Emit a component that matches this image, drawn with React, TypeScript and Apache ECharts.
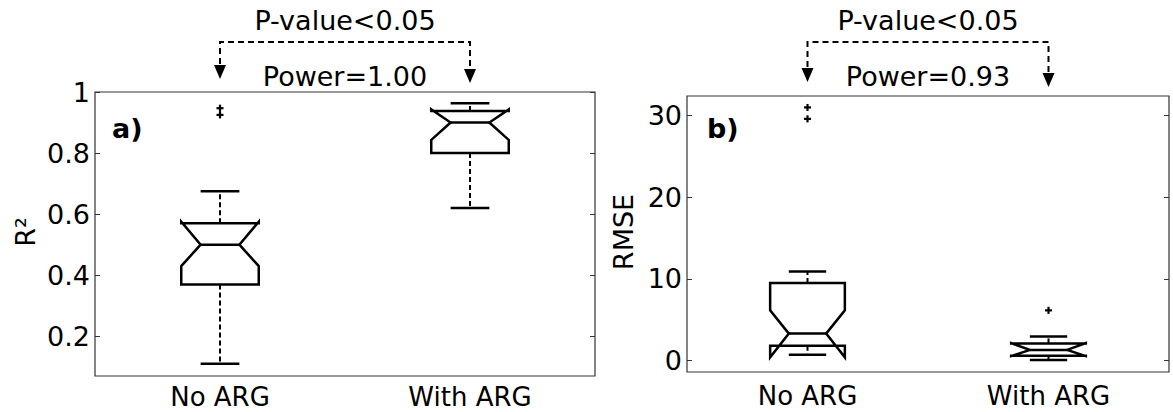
import React, { useEffect, useRef } from 'react';
import * as echarts from 'echarts';

const categories = ['No ARG', 'With ARG'];

// Panel a) R²
const r2LowerWhisker = [0.11, 0.62];
const r2Q1 = [0.37, 0.8];
const r2NotchLow = [0.43, 0.843];
const r2Median = [0.5, 0.9];
const r2NotchHigh = [0.575, 0.943];
const r2Q3 = [0.57, 0.938];
const r2UpperWhisker = [0.675, 0.963];
const r2Outliers = [[0, 0.947], [0, 0.925]];
const r2Ticks = [0.2, 0.4, 0.6, 0.8, 1];

// Panel b) RMSE
const rmseLowerWhisker = [0.7, 0.08];
const rmseQ1 = [1.8, 0.6];
const rmseNotchLow = [0.4, 0.55];
const rmseMedian = [3.3, 1.3];
const rmseNotchHigh = [6.15, 2.15];
const rmseQ3 = [9.5, 2.1];
const rmseUpperWhisker = [10.9, 2.95];
const rmseOutliers = [[0, 31.0], [0, 29.6], [1, 6.15]];
const rmseTicks = [0, 10, 20, 30];

const annotations = [
  { pText: 'P-value<0.05', powerText: 'Power=1.00' },
  { pText: 'P-value<0.05', powerText: 'Power=0.93' },
];

const FONT = 'DejaVu Sans';
const AX = '#333';

function boxRows(lw: number[], q1: number[], nlo: number[], med: number[], nhi: number[], q3: number[], uw: number[]) {
  return categories.map((_, i) => [i, lw[i], q1[i], nlo[i], med[i], nhi[i], q3[i], uw[i]]);
}

function renderBox(params: any, api: any) {
  const idx = api.value(0);
  const y = (v: number) => api.coord([idx, v])[1];
  const cx = api.coord([idx, api.value(4)])[0];
  const bw = api.size([1, 0])[0] * 0.31;
  const L = cx - bw / 2;
  const R = cx + bw / 2;
  const ind = bw / 4;
  const lw = api.value(1), q1 = api.value(2), nlo = api.value(3), med = api.value(4);
  const nhi = api.value(5), q3 = api.value(6), uw = api.value(7);
  const dash = { stroke: '#000', lineWidth: 2, lineDash: [5, 3], fill: 'none' };
  const solid = { stroke: '#000', lineWidth: 2.5, fill: 'none', lineJoin: 'miter' };
  const outline = [
    [L, y(q1)], [L, y(nlo)], [L + ind, y(med)], [L, y(nhi)], [L, y(q3)],
    [R, y(q3)], [R, y(nhi)], [R - ind, y(med)], [R, y(nlo)], [R, y(q1)],
  ];
  return {
    type: 'group',
    children: [
      { type: 'line', shape: { x1: cx, y1: y(q3), x2: cx, y2: y(uw) }, style: dash },
      { type: 'line', shape: { x1: cx, y1: y(q1), x2: cx, y2: y(lw) }, style: dash },
      { type: 'line', shape: { x1: cx - bw / 4, y1: y(uw), x2: cx + bw / 4, y2: y(uw) }, style: solid },
      { type: 'line', shape: { x1: cx - bw / 4, y1: y(lw), x2: cx + bw / 4, y2: y(lw) }, style: solid },
      { type: 'polygon', shape: { points: outline }, style: solid },
      { type: 'line', shape: { x1: L + ind, y1: y(med), x2: R - ind, y2: y(med) }, style: solid },
    ],
  };
}

function renderPlus(params: any, api: any) {
  const p = api.coord([api.value(0), api.value(1)]);
  const s = 3.5;
  const st = { stroke: '#000', lineWidth: 2.2 };
  return {
    type: 'group',
    children: [
      { type: 'line', shape: { x1: p[0] - s, y1: p[1], x2: p[0] + s, y2: p[1] }, style: st },
      { type: 'line', shape: { x1: p[0], y1: p[1] - s, x2: p[0], y2: p[1] + s }, style: st },
    ],
  };
}

function fmt(v: number) {
  return String(Math.round(v * 100) / 100);
}

export default function App() {
  const ref = useRef<HTMLDivElement>(null);
  useEffect(() => {
    if (!ref.current) return;
    const chart = echarts.init(ref.current, null, { renderer: 'svg' });
    const grids = [
      { left: 95, top: 92, width: 500, height: 284 },
      { left: 687, top: 96, width: 482, height: 276 },
    ];
    const yRanges = [
      { min: 0.07, max: 1.0, ticks: r2Ticks },
      { min: -1.4, max: 32.4, ticks: rmseTicks },
    ];
    const labelMargins = [8, 11];
    const option: any = {
      animation: false,
      backgroundColor: '#fff',
      grid: grids.map((g) => ({ ...g, show: true, borderColor: AX, borderWidth: 1.2, backgroundColor: 'transparent' })),
      xAxis: grids.map((_, gi) => ({
        type: 'category',
        gridIndex: gi,
        data: categories,
        boundaryGap: true,
        axisLine: { show: false },
        axisTick: { show: false },
        splitLine: { show: false },
        axisLabel: { fontFamily: FONT, fontSize: 26, lineHeight: 26, color: '#000', margin: labelMargins[gi] },
      })),
      yAxis: [
        ...yRanges.map((r, gi) => ({
          type: 'value',
          gridIndex: gi,
          position: 'left',
          min: r.min,
          max: r.max,
          axisLine: { show: false },
          splitLine: { show: false },
          axisTick: { show: true, inside: true, length: 5, customValues: r.ticks, lineStyle: { color: AX } },
          axisLabel: { customValues: r.ticks, formatter: fmt, fontFamily: FONT, fontSize: 27, color: '#000', margin: 5 },
        })),
        ...yRanges.map((r, gi) => ({
          type: 'value',
          gridIndex: gi,
          position: 'right',
          min: r.min,
          max: r.max,
          axisLine: { show: false },
          splitLine: { show: false },
          axisTick: { show: true, inside: true, length: 5, customValues: r.ticks, lineStyle: { color: AX } },
          axisLabel: { show: false, customValues: r.ticks },
        })),
      ],
      series: [
        {
          type: 'custom',
          xAxisIndex: 0,
          yAxisIndex: 0,
          renderItem: renderBox,
          encode: { x: 0, y: [1, 2, 3, 4, 5, 6, 7] },
          data: boxRows(r2LowerWhisker, r2Q1, r2NotchLow, r2Median, r2NotchHigh, r2Q3, r2UpperWhisker),
          z: 5,
        },
        {
          type: 'custom',
          xAxisIndex: 0,
          yAxisIndex: 0,
          renderItem: renderPlus,
          encode: { x: 0, y: 1 },
          data: r2Outliers,
          z: 5,
        },
        {
          type: 'custom',
          xAxisIndex: 1,
          yAxisIndex: 1,
          renderItem: renderBox,
          encode: { x: 0, y: [1, 2, 3, 4, 5, 6, 7] },
          data: boxRows(rmseLowerWhisker, rmseQ1, rmseNotchLow, rmseMedian, rmseNotchHigh, rmseQ3, rmseUpperWhisker),
          z: 5,
        },
        {
          type: 'custom',
          xAxisIndex: 1,
          yAxisIndex: 1,
          renderItem: renderPlus,
          encode: { x: 0, y: 1 },
          data: rmseOutliers,
          z: 5,
        },
      ],
    };
    chart.setOption(option);

    const arrowTips = [
      [79, 83],
      [82, 87],
    ];
    const graphic: any[] = [];
    const dashStyle = { stroke: '#000', lineWidth: 2, lineDash: [6, 4], fill: 'none' };
    [0, 1].forEach((gi) => {
      const x0 = chart.convertToPixel({ xAxisIndex: gi } as any, categories[0]) as unknown as number;
      const x1 = chart.convertToPixel({ xAxisIndex: gi } as any, categories[1]) as unknown as number;
      const mid = (x0 + x1) / 2;
      const yb = 42;
      const [t0, t1] = arrowTips[gi];
      graphic.push({
        type: 'text',
        x: mid,
        y: 20,
        style: { text: annotations[gi].pText, font: `27px "${FONT}"`, fill: '#000', align: 'center', verticalAlign: 'middle' },
      });
      graphic.push({
        type: 'text',
        x: mid,
        y: 76,
        style: { text: annotations[gi].powerText, font: `27px "${FONT}"`, fill: '#000', align: 'center', verticalAlign: 'middle' },
      });
      graphic.push({
        type: 'polyline',
        shape: { points: [[x0, t0 - 15], [x0, yb], [x1, yb], [x1, t1 - 15]] },
        style: dashStyle,
      });
      graphic.push({
        type: 'polygon',
        shape: { points: [[x0 - 6, t0 - 14], [x0 + 6, t0 - 14], [x0, t0]] },
        style: { fill: '#000' },
      });
      graphic.push({
        type: 'polygon',
        shape: { points: [[x1 - 6, t1 - 14], [x1 + 6, t1 - 14], [x1, t1]] },
        style: { fill: '#000' },
      });
    });
    graphic.push({
      type: 'text',
      x: 112,
      y: 128,
      style: { text: 'a)', font: `bold 27px "${FONT}"`, fill: '#000', align: 'left', verticalAlign: 'middle' },
    });
    graphic.push({
      type: 'text',
      x: 707,
      y: 128,
      style: { text: 'b)', font: `bold 27px "${FONT}"`, fill: '#000', align: 'left', verticalAlign: 'middle' },
    });
    graphic.push({
      type: 'text',
      x: 25,
      y: 232,
      rotation: Math.PI / 2,
      style: { text: 'R²', font: `27px "${FONT}"`, fill: '#000', align: 'center', verticalAlign: 'middle' },
    });
    graphic.push({
      type: 'text',
      x: 623,
      y: 232,
      rotation: Math.PI / 2,
      style: { text: 'RMSE', font: `27px "${FONT}"`, fill: '#000', align: 'center', verticalAlign: 'middle' },
    });
    chart.setOption({ graphic });

    return () => chart.dispose();
  }, []);
  return <div ref={ref} style={{ position: 'fixed', left: 0, top: 0, width: 1173, height: 412, background: '#fff' }} />;
}
